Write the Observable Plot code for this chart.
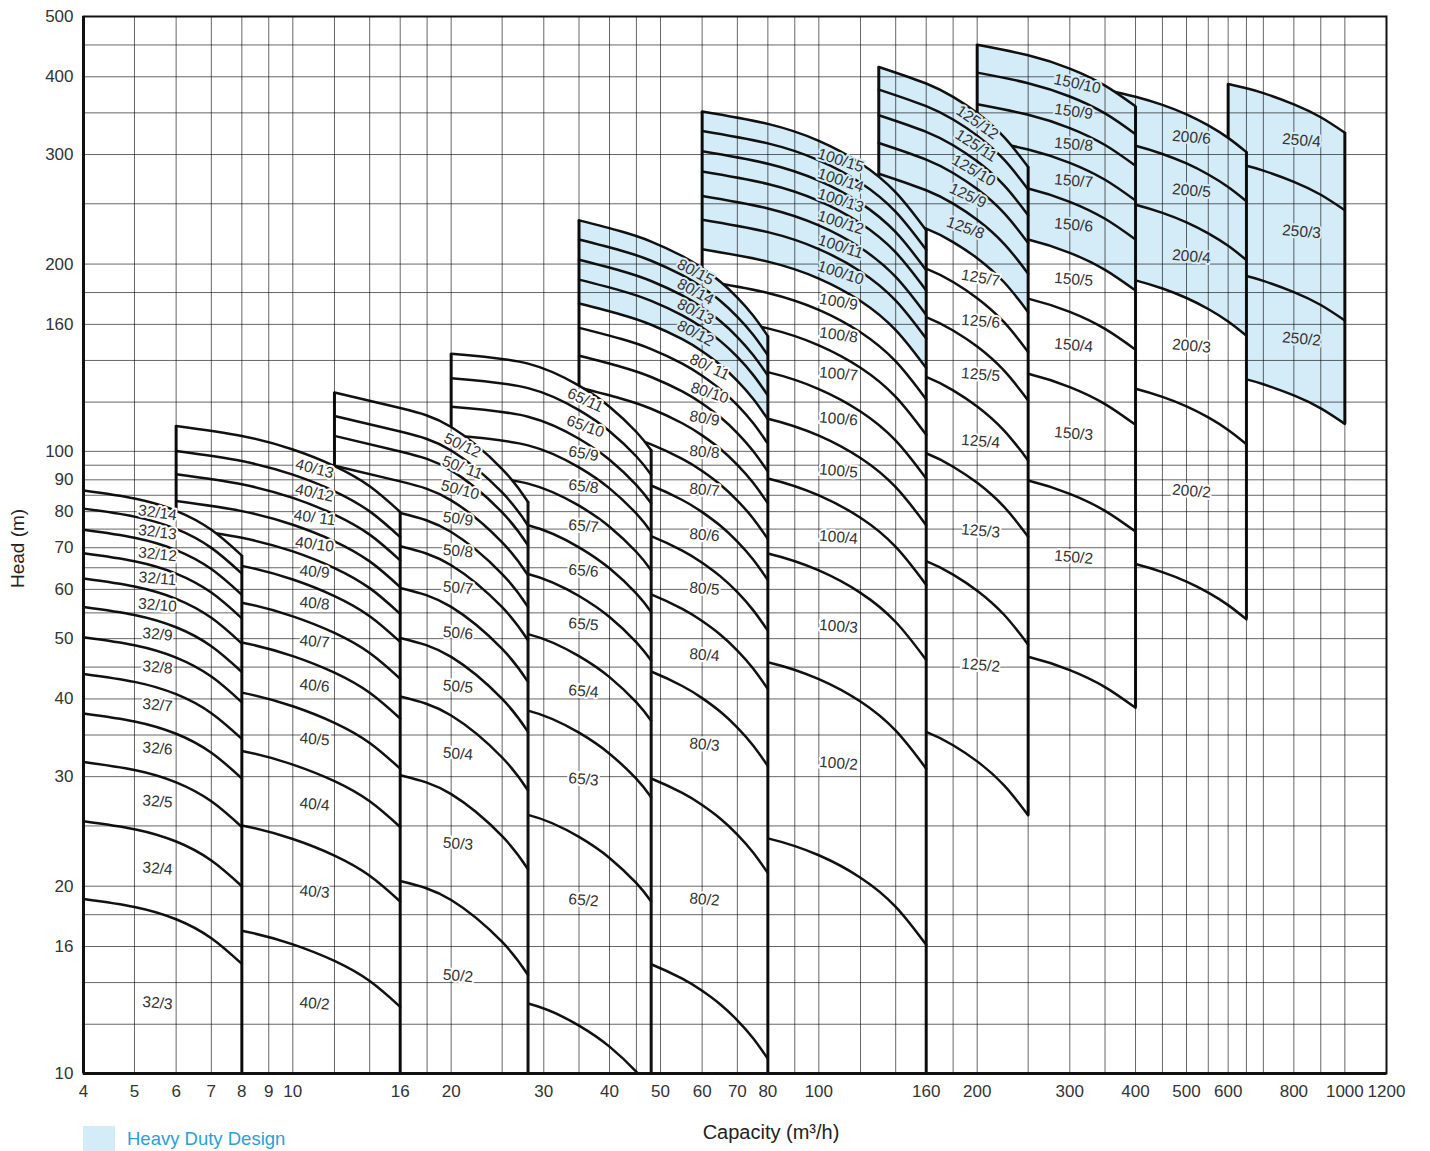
<!DOCTYPE html>
<html>
<head>
<meta charset="utf-8">
<script src="https://cdn.jsdelivr.net/npm/d3@7"></script>
<script src="https://cdn.jsdelivr.net/npm/@observablehq/plot@0.6"></script>
<style>
  body { margin: 0; background: #fff; position: relative; width: 1430px; height: 1151px; overflow: hidden;
         font-family: "Liberation Sans", Arial, sans-serif; }
  #legend { position: absolute; left: 83px; top: 1126px; display: flex; align-items: center; }
  #legend .sw { width: 32px; height: 25px; background: #d4ebf8; }
  #legend span { margin-left: 12px; color: #2a9fd6; font-size: 18.5px; }
</style>
</head>
<body>
<div id="chart"></div>
<div id="legend"><div class="sw"></div><span>Heavy Duty Design</span></div>
<script>
// ---------- axis ticks & grid ----------
const xTicks = [4, 5, 6, 7, 8, 9, 10, 16, 20, 30, 40, 50, 60, 70, 80, 100, 160, 200, 300, 400, 500, 600, 800, 1000, 1200];
const yTicks = [10, 16, 20, 30, 40, 50, 60, 70, 80, 90, 100, 160, 200, 300, 400, 500];
const xGrid = [5, 6, 7, 8, 9, 10, 12, 14, 16, 18, 20, 25, 30, 35, 40, 45, 50, 60, 70, 80, 90, 100, 120, 140, 160, 180, 200, 250, 300, 350, 400, 450, 500, 550, 600, 650, 700, 800, 900, 1000];
const yGrid = [12, 14, 16, 18, 20, 25, 30, 35, 40, 45, 50, 55, 60, 65, 70, 75, 80, 85, 90, 95, 100, 120, 140, 160, 180, 200, 250, 300, 350, 400, 450];

// ---------- pump families ----------
// q: capacity points (m3/h); r: head relative to the head at the last capacity point
// ends: head (m) at the end capacity for each stage count
const q32 = [4, 5, 6, 7, 8];
const r32 = [1.272, 1.235, 1.18, 1.10, 1];
const stages32 = [3, 4, 5, 6, 7, 8, 9, 10, 11, 12, 13, 14];
const end32 = [15.0, 20.0, 24.9, 29.8, 34.5, 39.5, 44.2, 49.1, 53.9, 58.8, 63.6, 68.0];

const q40 = [6, 8, 10, 12, 14, 16];
const r40 = [1.375, 1.325, 1.26, 1.185, 1.10, 1];
const stages40 = [2, 3, 4, 5, 6, 7, 8, 9, 10, 11, 12, 13];
const end40 = [12.8, 18.9, 24.9, 30.9, 37.2, 43.1, 49.4, 54.8, 60.5, 66.8, 72.8, 79.9];

const q50 = [12, 16, 20, 25, 28];
const r50 = [1.50, 1.416, 1.32, 1.13, 1];
const stages50 = [2, 3, 4, 5, 6, 7, 8, 9, 10, 11, 12];
const end50 = [14.4, 21.3, 28.5, 35.4, 42.6, 49.7, 56.2, 63.2, 70.6, 76.0, 82.9];

const q65 = [20, 28, 35, 40, 45, 48];
const r65 = [1.43, 1.378, 1.27, 1.175, 1.07, 1];
const stages65 = [1, 2, 3, 4, 5, 6, 7, 8, 9, 10, 11];
const end65 = [9.4, 18.9, 27.8, 36.9, 46.1, 55.2, 64.4, 74.2, 82.5, 91.7, 100.4];

const q80 = [35, 42, 48, 55, 60, 65, 70, 75, 80];
const r80 = [1.535, 1.474, 1.419, 1.345, 1.286, 1.2225, 1.153, 1.079, 1];
const stages80 = [1, 2, 3, 4, 5, 6, 7, 8, 9, 10, 11, 12, 13, 14, 15];
const end80 = [10.56, 21.0, 31.2, 41.5, 51.5, 62.1, 72.3, 82.5, 92.8, 102.9, 112.6, 123.0, 132.4, 142.7, 153.2];

const q100 = [60, 80, 100, 120, 140, 160];
const r100 = [1.553, 1.483, 1.393, 1.282, 1.151, 1];
const stages100 = [1, 2, 3, 4, 5, 6, 7, 8, 9, 10, 11, 12, 13, 14, 15];
const end100 = [16.1, 30.9, 46.2, 61.0, 76.1, 90.4, 106.3, 121.2, 136.1, 151.8, 165.7, 181.4, 195.5, 210.8, 226.6];

const q125 = [130, 160, 180, 200, 225, 250];
const r125 = [1.448, 1.362, 1.296, 1.221, 1.117, 1];
const stages125 = [1, 2, 3, 4, 5, 6, 7, 8, 9, 10, 11, 12];
const end125 = [26.0, 48.9, 72.9, 96.7, 120.7, 144.4, 167.4, 193.0, 216.2, 239.6, 263.5, 286.5];

const q150 = [200, 250, 300, 350, 400];
const r150 = [1.256, 1.208, 1.15, 1.08, 1];
const stages150 = [1, 2, 3, 4, 5, 6, 7, 8, 9, 10];
const end150 = [38.7, 74.3, 110.3, 145.7, 181.3, 219.0, 253.0, 287.7, 323.4, 358.5];

const q200 = [350, 400, 450, 500, 550, 600, 650];
const r200 = [1.26, 1.2275, 1.191, 1.15, 1.104, 1.054, 1];
const stages200 = [1, 2, 3, 4, 5, 6];
const end200 = [53.7, 102.7, 153.4, 203.0, 252.4, 302.7];

const q250 = [600, 650, 700, 800, 900, 1000];
const r250 = [1.198, 1.179, 1.158, 1.111, 1.059, 1];
const stages250 = [1, 2, 3, 4];
const end250 = [110.7, 162.3, 244.1, 325.2];

// heavy duty design bands: [lower boundary stage curve, upper boundary stage curve]
const heavy80 = [11, 15], heavy100 = [9, 15], heavy125 = [7, 12], heavy150 = [5, 10], heavy200 = [3, 6], heavy250 = [1, 4];

const families = [
  {name: "32", q: q32, r: r32, stages: stages32, ends: end32},
  {name: "40", q: q40, r: r40, stages: stages40, ends: end40},
  {name: "50", q: q50, r: r50, stages: stages50, ends: end50},
  {name: "65", q: q65, r: r65, stages: stages65, ends: end65},
  {name: "80", q: q80, r: r80, stages: stages80, ends: end80, heavy: heavy80},
  {name: "100", q: q100, r: r100, stages: stages100, ends: end100, heavy: heavy100},
  {name: "125", q: q125, r: r125, stages: stages125, ends: end125, heavy: heavy125},
  {name: "150", q: q150, r: r150, stages: stages150, ends: end150, heavy: heavy150},
  {name: "200", q: q200, r: r200, stages: stages200, ends: end200, heavy: heavy200},
  {name: "250", q: q250, r: r250, stages: stages250, ends: end250, heavy: heavy250}
];

// ---------- layout (label placement) ----------
const edgeToAxis = new Set(["32", "40", "50", "65", "80", "100"]);
const spacedLabels = new Set(["40/11", "50/11", "80/11"]);
const labelLayout = {
  "32": {q: 5.53, topQ: [], tilt: [8, 7, 6], lowW: 0.56},
  "40": {q: 11, topQ: [], tilt: [15, 12, 8, 7]},
  "50": {q: 20.6, topQ: [21, 21, 20.8], tilt: [25, 20, 15, 8]},
  "65": {q: 35.7, topQ: [36, 36], tilt: [25, 20, 10, 7], lowW: 0.32},
  "80": {q: 60.6, topQ: [58.3, 58.3, 58.3, 58.3, 62, 62], tilt: [28, 28, 28, 28, 25, 18, 10], lowW: 0.5},
  "100": {q: 109, topQ: [110, 110, 110, 110, 110, 110], tilt: [18, 18, 18, 18, 18, 18, 10, 8]},
  "125": {q: 203, topQ: [200, 199, 197, 192, 190], tilt: [35, 33, 30, 25, 20, 10]},
  "150": {q: 305, topQ: [310], tilt: [12, 8], lowW: 0.35},
  "200": {q: 511, topQ: [], tilt: [], lowW: 0.47},
  "250": {q: 827, topQ: [], tilt: []}
};
const labelWeight = 0.42; // log-space fraction of the band below the curve

const BLUE = "#d4ebf8";
const INK = "#111";
const marks = [];

for (const f of [...families].reverse()) {
  const top = f.ends.length - 1;
  const pts = (i) => f.q.map((Q, j) => ({Q, H: f.ends[i] * f.r[j], stage: f.stages[i]}));
  marks.push(Plot.areaY(pts(top), {x: "Q", y1: 10, y2: "H", fill: "white", curve: "natural", clip: true}));
  if (f.heavy) {
    const lo = f.stages.indexOf(f.heavy[0]), hi = f.stages.indexOf(f.heavy[1]);
    const band = f.q.map((Q, j) => ({Q, lo: f.ends[lo] * f.r[j], hi: f.ends[hi] * f.r[j]}));
    marks.push(Plot.areaY(band, {x: "Q", y1: "lo", y2: "hi", fill: BLUE, curve: "natural", clip: true}));
  }
  const lines = f.ends.flatMap((_, i) => pts(i));
  marks.push(Plot.line(lines, {x: "Q", y: "H", z: "stage", stroke: INK, strokeWidth: 2.5, curve: "natural", clip: true}));
  const q0 = f.q[0], q1 = f.q[f.q.length - 1];
  marks.push(Plot.ruleX([q0], {y1: 10, y2: f.ends[top] * f.r[0], stroke: INK, strokeWidth: 3}));
  marks.push(Plot.ruleX([q1], {y1: edgeToAxis.has(f.name) ? 10 : f.ends[0], y2: f.ends[top], stroke: INK, strokeWidth: 3}));
}

// grid on top of the block fills (semi-transparent black)
marks.push(Plot.ruleY(yGrid, {stroke: "#000", strokeOpacity: 0.6, strokeWidth: 1}));
marks.push(Plot.ruleX(xGrid, {stroke: "#000", strokeOpacity: 0.6, strokeWidth: 1}));

// curve labels
const labels = [];
for (const f of families) {
  const ratio = d3.scaleLog().domain(f.q).range(f.r);
  const lay = labelLayout[f.name];
  const labeled = f.stages.filter(s => s >= 2).reverse();
  labeled.forEach((s, rank) => {
    const i = f.stages.indexOf(s);
    const Q = lay.topQ[rank] ?? lay.q;
    const h = f.ends[i] * ratio(Q);
    const below = i > 0 ? f.ends[i - 1] * ratio(Q) : 10;
    const w = (rank === labeled.length - 1 && lay.lowW != null) ? lay.lowW : labelWeight;
    const key = `${f.name}/${s}`;
    const isHeavy = f.heavy && s > f.heavy[0] && s <= f.heavy[1];
    labels.push({
      Q, H: Math.pow(h, 1 - w) * Math.pow(below, w),
      text: spacedLabels.has(key) ? `${f.name}/ ${s}` : key,
      rotate: lay.tilt[rank] ?? 5,
      halo: isHeavy ? BLUE : "white"
    });
  });
}
marks.push(Plot.text(labels, {
  x: "Q", y: "H", text: "text", rotate: "rotate", fontSize: 15.5, fill: "#333",
  stroke: "halo", strokeWidth: 4, paintOrder: "stroke"
}));

// frame & axis lines
marks.push(Plot.frame({stroke: INK, strokeWidth: 2}));
marks.push(Plot.ruleX([4], {stroke: INK, strokeWidth: 3}));
marks.push(Plot.ruleY([10], {stroke: INK, strokeWidth: 3}));

// tick labels
marks.push(Plot.text(xTicks, {x: d => d, frameAnchor: "bottom", dy: 23, text: d => String(d), fontSize: 17, fill: "#333"}));
marks.push(Plot.text(yTicks, {y: d => d, frameAnchor: "left", dx: -10, textAnchor: "end", text: d => String(d), fontSize: 17, fill: "#333"}));

// axis titles
marks.push(Plot.text(["Capacity (m³/h)"], {frameAnchor: "bottom", dx: 36, dy: 65, fontSize: 20, fill: "#222"}));
marks.push(Plot.text(["Head (m)"], {frameAnchor: "left", dx: -66, dy: 43, rotate: -90, fontSize: 19, fill: "#222"}));

const chart = Plot.plot({
  width: 1430,
  height: 1151,
  marginLeft: 83,
  marginRight: 44,
  marginTop: 16,
  marginBottom: 78,
  style: {fontFamily: "Liberation Sans, Arial, sans-serif", fontSize: "16px", color: "#333", background: "white"},
  x: {type: "log", domain: [4, 1200], axis: null},
  y: {type: "log", domain: [10, 500], axis: null},
  marks
});
document.getElementById("chart").appendChild(chart);
</script>
</body>
</html>
